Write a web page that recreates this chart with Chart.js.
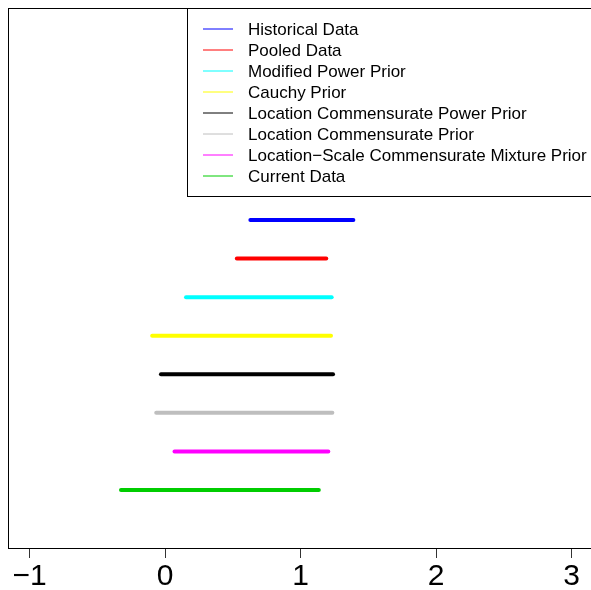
<!DOCTYPE html>
<html><head><meta charset="utf-8">
<script src="https://cdn.jsdelivr.net/npm/chart.js@4/dist/chart.umd.min.js"></script>
<style>html,body{margin:0;padding:0;background:#fff}#wrap{width:591px;height:590px}</style>
</head><body><div id="wrap"><canvas id="c" width="591" height="590"></canvas></div>
<script>
const seriesNames = ["Historical Data","Pooled Data","Modified Power Prior","Cauchy Prior","Location Commensurate Power Prior","Location Commensurate Prior","Location\u2212Scale Commensurate Mixture Prior","Current Data"];
const seriesColors = ["#0000FF","#FF0000","#00FFFF","#FFFF00","#000000","#BEBEBE","#FF00FF","#00CD00"];
const lowerBounds = [0.63, 0.53, 0.155, -0.095, -0.03, -0.065, 0.07, -0.325];
const upperBounds = [1.39, 1.19, 1.23, 1.225, 1.24, 1.235, 1.205, 1.135];
const rowPositions = [8, 7, 6, 5, 4, 3, 2, 1];
const xTicks = [-1, 0, 1, 2, 3];

const datasets = seriesNames.map((n, i) => ({
  label: n,
  data: [{x: lowerBounds[i], y: rowPositions[i]}, {x: upperBounds[i], y: rowPositions[i]}],
  borderColor: seriesColors[i],
  backgroundColor: seriesColors[i],
  borderWidth: 4,
  borderCapStyle: 'round',
  showLine: true,
  pointRadius: 0
}));

const boxPlugin = {
  id: 'box',
  afterDraw(chart) {
    const ctx = chart.ctx, a = chart.chartArea;
    ctx.save();
    ctx.strokeStyle = '#000'; ctx.lineWidth = 1;
    ctx.strokeRect(a.left + 0.5, a.top + 0.5, a.right - a.left + 2, a.bottom - a.top);
    // legend
    const lx = 187.5, ly = a.top + 0.5, lw = 420, lh = 188;
    ctx.fillStyle = '#fff';
    ctx.fillRect(lx, ly, lw, lh);
    ctx.strokeRect(lx, ly, lw, lh);
    ctx.font = '17px "Liberation Sans", Arial, sans-serif';
    ctx.textBaseline = 'middle';
    seriesNames.forEach((n, i) => {
      const y = 29 + i * 21.0;
      ctx.strokeStyle = seriesColors[i];
      ctx.lineWidth = 1;
      ctx.beginPath(); ctx.moveTo(203, y); ctx.lineTo(233, y); ctx.stroke();
      ctx.fillStyle = '#000';
      ctx.fillText(n, 248, y + 1);
    });
    ctx.restore();
  }
};

new Chart(document.getElementById('c'), {
  type: 'scatter',
  data: { datasets },
  options: {
    responsive: false,
    animation: false,
    events: [],
    layout: { padding: { left: 8, right: 0, top: 8, bottom: -6 } },
    plugins: { legend: { display: false }, tooltip: { enabled: false } },
    scales: {
      x: {
        type: 'linear', min: -1.159, max: 3.144,
        afterBuildTicks(axis) { axis.ticks = xTicks.map(v => ({value: v})); },
        grid: { display: true, drawOnChartArea: false, drawTicks: true, tickLength: 10, color: '#333' },
        border: { display: false },
        ticks: {
          color: '#000', padding: 4,
          font: { size: 30, lineHeight: 1.0, family: '"Liberation Sans", Arial, sans-serif' },
          maxRotation: 0,
          callback: v => String(v).replace('-', '\u2212')
        }
      },
      y: { type: 'linear', min: -0.504, max: 13.497, display: false }
    }
  },
  plugins: [boxPlugin]
});
</script></body></html>
